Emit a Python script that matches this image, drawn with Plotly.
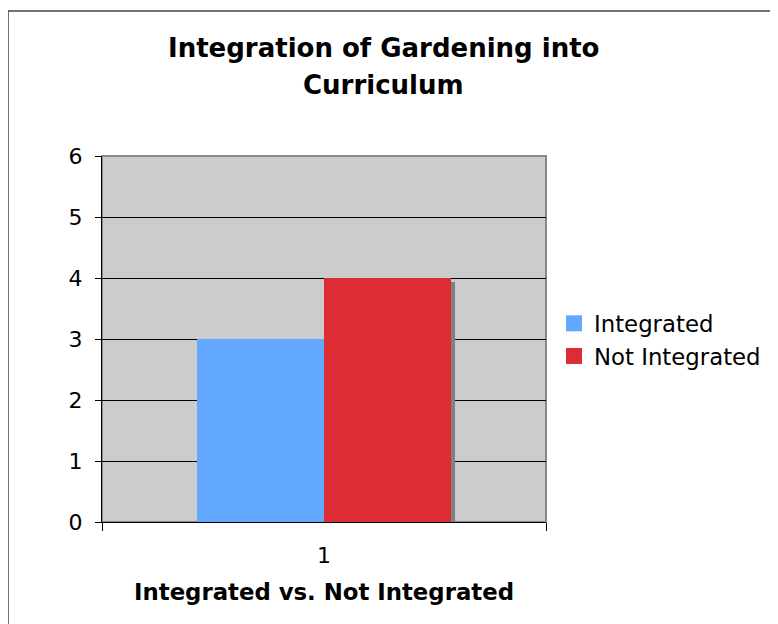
import plotly.graph_objects as go

categories = ["1"]
series_names = ["Integrated", "Not Integrated"]
integrated = [3]
not_integrated = [4]
y_ticks = [0, 1, 2, 3, 4, 5, 6]

colors = ["#62A8FF", "#DD2C33"]
shadow = "#808080"

OFF = 8  # default page margin of the html body
W, H = 770, 616
# plot area in page pixels: x 102..546, y 156..522
PL, PR, PT, PB = 102, 546, 156, 522
L, T = PL - OFF, PT - OFF
R, B = W - (PR - OFF), H - (PB - OFF)
pw, ph = PR - PL, PB - PT

def px_x(p):
    return (p - PL) / pw

def px_y(p):
    return (PB - p) / ph

bar_w = 127 / pw
sh_dx = 4 / pw
sh_dy = 4 / ph * 6

fig = go.Figure()
values = [integrated, not_integrated]
offsets = [-bar_w, 0.0]
for vals, off in zip(values, offsets):
    fig.add_trace(go.Bar(x=categories, y=vals, base=[-sh_dy] * len(vals),
                         width=bar_w, offset=off + sh_dx,
                         marker=dict(color=shadow, line=dict(width=0)),
                         showlegend=False, hoverinfo="skip"))
for name, vals, off, c in zip(series_names, values, offsets, colors):
    fig.add_trace(go.Bar(x=categories, y=vals, name=name, width=bar_w, offset=off,
                         marker=dict(color=c, line=dict(width=0)), showlegend=False))
# legend entries with square keys
for name, c in zip(series_names, colors):
    fig.add_trace(go.Scatter(x=[None], y=[None], mode="markers", name=name,
                             marker=dict(symbol="square", size=18, color=c)))

fig.update_layout(
    width=W, height=H,
    margin=dict(l=L, r=R, t=T, b=B, autoexpand=False),
    barmode="overlay",
    paper_bgcolor="white",
    plot_bgcolor="#CCCCCC",
    font=dict(family="DejaVu Sans", size=22, color="black"),
    showlegend=True,
    legend=dict(x=px_x(554), y=px_y(340), xanchor="left", yanchor="middle",
                font=dict(size=22.8), bgcolor="rgba(0,0,0,0)",
                traceorder="normal", itemwidth=30),
    xaxis=dict(type="category", range=[-0.5, 0.5], showgrid=False,
               showline=True, linecolor="black", linewidth=1,
               ticks="outside", tickson="boundaries", ticklen=8, tickcolor="black",
               tickfont=dict(size=22), ticklabelstandoff=14, fixedrange=True,
               title=dict(text="<b>Integrated vs. Not Integrated</b>",
                          font=dict(size=22.8), standoff=16)),
    yaxis=dict(range=[0, 6], tickvals=y_ticks, showgrid=True, gridcolor="black",
               gridwidth=1, zeroline=False, showline=True, linecolor="black",
               linewidth=1, ticks="outside", ticklen=6, tickcolor="black",
               tickfont=dict(size=22), ticklabelstandoff=8, fixedrange=True),
    shapes=[
        dict(type="rect", xref="paper", yref="paper", x0=0, x1=1, y0=0, y1=1,
             line=dict(color="#888888", width=2), fillcolor="rgba(0,0,0,0)", layer="below"),
        dict(type="rect", xref="paper", yref="paper", x0=px_x(8), x1=px_x(800),
             y0=px_y(660), y1=px_y(11), line=dict(color="#444444", width=1.5),
             fillcolor="rgba(0,0,0,0)"),
    ],
    annotations=[
        dict(text="<b>Integration of Gardening into</b>", xref="paper", yref="paper",
             x=px_x(383), y=px_y(48), xanchor="center", yanchor="middle", showarrow=False,
             font=dict(family="DejaVu Sans", size=26)),
        dict(text="<b>Curriculum</b>", xref="paper", yref="paper",
             x=px_x(383), y=px_y(85), xanchor="center", yanchor="middle", showarrow=False,
             font=dict(family="DejaVu Sans", size=26)),
    ],
)

fig.write_html("out.html")
